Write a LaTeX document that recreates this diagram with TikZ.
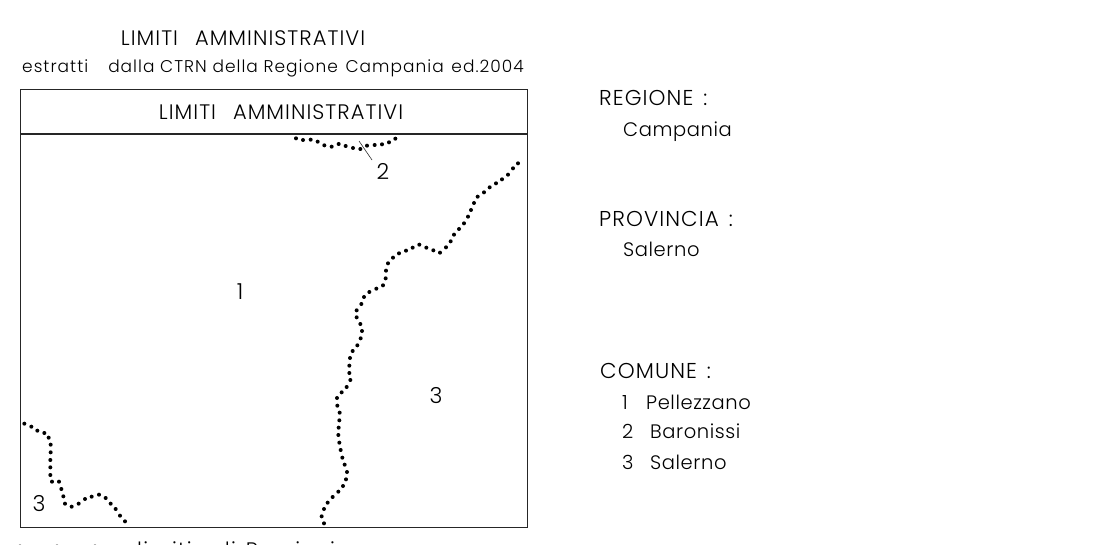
\documentclass[tikz,border=0pt]{standalone}
\usepackage{fontspec}
\setmainfont{Poppins}[UprightFont=* Light]
\newfontfamily\wideA{Poppins}[UprightFont=* Light,LetterSpace=5]
\newfontfamily\wideB{Poppins}[UprightFont=* Light,LetterSpace=6]
\newfontfamily\wideC{Poppins}[UprightFont=* Light,LetterSpace=3]
\tikzset{
  lab/.style={inner sep=0pt,anchor=base west,font=\wideA\fontsize{21.5}{24}\selectfont,text=black},
  low/.style={inner sep=0pt,anchor=base west,font=\wideC\fontsize{19.5}{22}\selectfont,text=black},
  capl/.style={inner sep=0pt,anchor=base,font=\wideA\fontsize{21}{24}\selectfont,text=black},
  numl/.style={inner sep=0pt,anchor=base,font=\fontsize{22}{24}\selectfont,text=black},
  sm/.style={inner sep=0pt,anchor=base west,font=\wideB\fontsize{17}{20}\selectfont,text=black},
  bot/.style={inner sep=0pt,anchor=base west,font=\wideB\fontsize{21}{24}\selectfont,text=black},
  frame/.style={draw=black!85,line width=1.2pt},
  leader/.style={draw=black!80,line width=0.6pt}
}
\begin{document}
\begin{tikzpicture}[x=1pt,y=-1pt]
\useasboundingbox (0,0) rectangle (1100,545);
\fill[white] (0,0) rectangle (1100,545);
\node[capl] (t1) at (243,46) {LIMITI\hspace{17pt}AMMINISTRATIVI};
\node[sm] (t2) at (22,73) {estratti\hspace{20pt}dalla CTRN della Regione\hspace{2pt} Campania\hspace{2pt} ed.2004};
\node[frame,draw,rectangle,minimum width=507,minimum height=438,inner sep=0pt,anchor=north west] (box) at (20,89) {};
\coordinate (hl) at (20,134); \coordinate (hr) at (527,134);
\draw[frame] (hl) -- (hr);
\node[capl] (t3) at (281,120) {LIMITI\hspace{17pt}AMMINISTRATIVI};
\node[numl] (n2) at (383,180) {2};
\node[numl] (n1) at (240,300) {1};
\node[numl] (n3) at (436,403) {3};
\node[numl] (n3b) at (39,511) {3};
\coordinate (l1) at (359,141); \coordinate (l2) at (372,160);
\draw[leader] (l1) -- (l2);
\node[lab] (r1) at (599,106) {REGIONE\hspace{10pt}:};
\node[low] (r2) at (623,137) {Campania};
\node[lab] (r3) at (599,227) {PROVINCIA\hspace{10pt}:};
\node[low] (r4) at (623,257) {Salerno};
\node[lab] (r5) at (600,378) {COMUNE\hspace{10pt}:};
\node[low] (r6) at (622,409) {\makebox[24pt][l]{1}Pellezzano};
\node[low] (r7) at (622,438) {\makebox[28pt][l]{2}Baronissi};
\node[low] (r8) at (622,469) {\makebox[28pt][l]{3}Salerno};
\node[bot] (b1) at (137,557) {limiti\hspace{24pt}di\hspace{10pt}Provincia};
\foreach \sx in {20,57,95}
  \fill (\sx,546.5) circle[radius=2];
\foreach \zx/\zy in {48/40,69/45,92/44,113/50,133/61,155/65,176/57,197/63,219/69,241/72,261/62,284/60,306/58,327/52,346/41,
714/115,699/130,684/149,666/163,648/175,629/187,612/202,593/215,582/234,573/255,564/275,552/295,537/312,522/329,512/349,498/367,480/383,460/376,439/368,418/359,398/368,378/377,357/385,339/398,324/415,318/437}
  \fill ({280+\zx/3},{125+\zy/3}) circle[radius=2];
\foreach \zx/\zy in {227/25,219/46,199/56,178/66,162/81,154/102,140/121,140/142,151/162,156/183,152/205,142/226,128/243,120/264,118/287,118/309,121/330,110/351,95/367,81/384,82/407,89/428,88/451,86/473,85/495,88/518,92/540,97/563,104/584,111/606,108/628,99/648,85/665,68/681,53/698,42/717,35/739,42/760}
  \fill ({310+\zx/3},{270+\zy/3}) circle[radius=2];
\foreach \zx/\zy in {73/41,94/50,112/62,133/69,146/83,152/104,152/127,151/150,151/172,151/195,156/215,177/215,184/237,190/259,195/281,215/290,236/281,255/267,275/260,297/254,317/264,332/281,347/297,360/317,375/334}
  \fill ({\zx/3},{410+\zy/3}) circle[radius=2];
\end{tikzpicture}
\end{document}
